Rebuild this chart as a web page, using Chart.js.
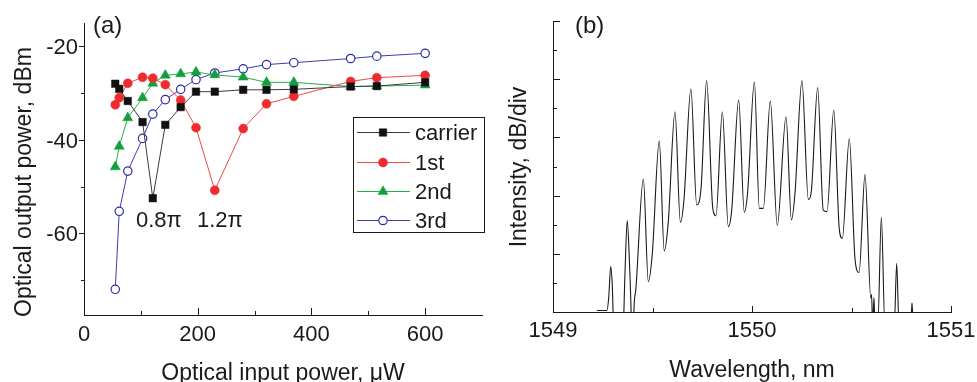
<!DOCTYPE html>
<html>
<head>
<meta charset="utf-8">
<script src="https://cdn.jsdelivr.net/npm/chart.js@4.4.1/dist/chart.umd.min.js"></script>
<style>
html, body { margin: 0; padding: 0; background: #fff; }
#wrap { position: relative; width: 977px; height: 382px; overflow: hidden; }
#boxA { position: absolute; left: 0; top: 0; width: 490px; height: 382px; }
#boxB { position: absolute; left: 490px; top: 0; width: 487px; height: 382px; }
</style>
</head>
<body>
<div id="wrap">
	<div id="boxA"><canvas id="chartA"></canvas></div>
	<div id="boxB"><canvas id="chartB"></canvas></div>
</div>
<script>
// ---- panel (a): output power of carrier and harmonics vs input power ----
var inputPower   = [55, 62, 77, 103, 121, 143, 170, 197, 230, 280, 321, 369, 469, 515, 600];
var carrierPower = [-28.0, -29.1, -31.7, -36.2, -52.5, -36.8, -33.0, -29.7, -29.7, -29.3, -29.3, -29.2, -28.6, -28.5, -27.7];
var firstPower   = [-32.5, -31.0, -27.9, -26.6, -26.8, -28.2, -31.5, -37.4, -50.8, -37.6, -32.3, -30.7, -27.5, -26.7, -26.2];
var secondPower  = [-45.8, -41.4, -35.3, -31.0, -27.9, -26.2, -25.9, -25.5, -26.1, -26.6, -27.7, -27.7, -28.6, -28.5, -28.3];
var thirdPower   = [-72.0, -55.3, -46.7, -39.7, -34.5, -31.4, -29.2, -27.1, -25.7, -24.8, -23.9, -23.5, -22.6, -22.1, -21.5];
var seriesNames  = ['carrier', '1st', '2nd', '3rd'];
var phaseNotes   = ['0.8\u03c0', '1.2\u03c0'];
var xTicksA = [0, 200, 400, 600];
var xMinorA = [100, 300, 500];
var yTicksA = [-20, -40, -60];
var yMinorA = [-30, -50, -70];

// ---- panel (b): optical spectrum ----
var wavelength = [
	1549.220, 1549.271, 1549.280, 1549.290, 1549.298, 1549.307,
	1549.350, 1549.362, 1549.373, 1549.386, 1549.400,
	1549.409, 1549.416, 1549.454, 1549.479, 1549.499,
	1549.534, 1549.559, 1549.579,
	1549.613, 1549.640, 1549.658,
	1549.693, 1549.722, 1549.744,
	1549.772, 1549.803, 1549.819,
	1549.851, 1549.881, 1549.898,
	1549.933, 1549.961, 1549.978,
	1550.012, 1550.037, 1550.057,
	1550.092, 1550.127,
	1550.171, 1550.198, 1550.216,
	1550.251, 1550.283, 1550.297,
	1550.330, 1550.358, 1550.377,
	1550.411, 1550.439, 1550.454,
	1550.489, 1550.518, 1550.538,
	1550.568, 1550.597, 1550.601, 1550.606, 1550.613, 1550.618, 1550.632,
	1550.650, 1550.668,
	1550.715, 1550.727, 1550.739,
	1550.800, 1550.804, 1550.808
];
var intensity = [
	0.05, 0.05, 0.5, 1.56, 0.9, -1,
	-1, 1.4, 3.14, 1.4, -1,
	0.4, 0.76, 4.58, 1.04, 2.0,
	5.88, 2.1, 3.07,
	6.88, 3.08, 3.85,
	7.67, 3.68, 4.25,
	7.95, 3.56, 3.31,
	6.88, 2.93, 3.5,
	7.29, 3.43, 4.11,
	7.91, 3.56, 3.56,
	7.26, 2.97,
	6.71, 3.16, 4.08,
	7.95, 3.87, 4.08,
	7.71, 3.5, 3.45,
	6.94, 2.82, 2.53,
	5.96, 1.79, 1.36,
	4.73, 0.47, 0.6, -0.5, 0.5, -0.5, -0.5,
	3.25, -0.5,
	-0.5, 1.67, -0.5,
	-0.2, 0.32, -0.2
];
var xTicksB = [1549, 1550, 1551];
var xMinorB = [1549.5, 1550.5];
var yTicksB = [2, 4, 6, 8, 10];
var yMinorB = [1, 3, 5, 7, 9];

var FONT = '"Liberation Sans", Arial, Helvetica, sans-serif';
var INK = '#1a1a1a';

function toPoints(xs, ys) {
	return xs.map(function(x, i) { return {x: x, y: ys[i]}; });
}

function seg(ctx, x1, y1, x2, y2) {
	ctx.beginPath();
	ctx.moveTo(x1, y1);
	ctx.lineTo(x2, y2);
	ctx.stroke();
}

function crisp(v) { return Math.round(v) + 0.5; }

// tick marks, labels, titles, legend for panel (a)
var decorA = {
	id: 'decorA',
	afterDraw: function(chart) {
		var ctx = chart.ctx;
		var sx = chart.scales.x, sy = chart.scales.y;
		var area = chart.chartArea;
		ctx.save();
		ctx.strokeStyle = INK;
		ctx.lineWidth = 1;
		// x ticks point into the plot
		xTicksA.forEach(function(v) { var x = crisp(sx.getPixelForValue(v)); seg(ctx, x, area.bottom, x, area.bottom - 7); });
		xMinorA.forEach(function(v) { var x = crisp(sx.getPixelForValue(v)); seg(ctx, x, area.bottom, x, area.bottom - 4); });
		// y ticks point outward
		yTicksA.forEach(function(v) { var y = crisp(sy.getPixelForValue(v)); seg(ctx, area.left, y, area.left - 5, y); });
		yMinorA.forEach(function(v) { var y = crisp(sy.getPixelForValue(v)); seg(ctx, area.left, y, area.left - 3, y); });

		ctx.fillStyle = INK;
		ctx.font = '22px ' + FONT;
		ctx.textBaseline = 'alphabetic';
		ctx.textAlign = 'center';
		xTicksA.forEach(function(v) { ctx.fillText(String(v), sx.getPixelForValue(v), 341); });
		ctx.textAlign = 'right';
		yTicksA.forEach(function(v) { ctx.fillText(String(v), area.left - 6, sy.getPixelForValue(v) + 8); });

		// phase notes under the two dips
		ctx.textAlign = 'center';
		ctx.fillText(phaseNotes[0], sx.getPixelForValue(inputPower[4]) + 6, sy.getPixelForValue(-57) + 8);
		ctx.fillText(phaseNotes[1], sx.getPixelForValue(inputPower[8]) + 5, sy.getPixelForValue(-57) + 8);

		// titles
		ctx.font = '23px ' + FONT;
		ctx.fillText('Optical input power, \u03bcW', (area.left + area.right) / 2, 380);
		ctx.save();
		ctx.translate(31, 182);
		ctx.rotate(-Math.PI / 2);
		ctx.fillText('Optical output power, dBm', 0, 0);
		ctx.restore();
		ctx.textAlign = 'left';
		ctx.font = '24px ' + FONT;
		ctx.fillText('(a)', 93, 33);

		// legend box
		ctx.lineWidth = 1;
		ctx.strokeStyle = INK;
		ctx.strokeRect(353.5, 117.5, 131, 115);
		var rows = [132, 162, 191, 220];
		ctx.font = '22px ' + FONT;
		chart.data.datasets.forEach(function(ds, i) {
			var y = rows[i];
			ctx.strokeStyle = ds.borderColor;
			ctx.lineWidth = ds.borderWidth;
			seg(ctx, 357, y + 0.5, 410, y + 0.5);
			ctx.fillStyle = ds.pointBackgroundColor;
			ctx.strokeStyle = ds.pointBorderColor;
			ctx.lineWidth = ds.pointBorderWidth;
			Chart.helpers.drawPoint(ctx, {pointStyle: ds.pointStyle, radius: ds.pointRadius, rotation: 0, borderWidth: ds.pointBorderWidth}, 383, y + 0.5);
			ctx.fillStyle = INK;
			ctx.fillText(ds.label, 415, y + 8);
		});
		ctx.restore();
	}
};

// tick marks, labels, titles for panel (b)
var decorB = {
	id: 'decorB',
	afterDraw: function(chart) {
		var ctx = chart.ctx;
		var sx = chart.scales.x, sy = chart.scales.y;
		var area = chart.chartArea;
		ctx.save();
		ctx.strokeStyle = INK;
		ctx.lineWidth = 1;
		xTicksB.forEach(function(v) { var x = crisp(sx.getPixelForValue(v)); seg(ctx, x, area.bottom, x, area.bottom - 6); });
		xMinorB.forEach(function(v) { var x = crisp(sx.getPixelForValue(v)); seg(ctx, x, area.bottom, x, area.bottom - 4); });
		yTicksB.forEach(function(v) { var y = crisp(sy.getPixelForValue(v)); seg(ctx, area.left, y, area.left + 7, y); });
		yMinorB.forEach(function(v) { var y = crisp(sy.getPixelForValue(v)); seg(ctx, area.left, y, area.left + 4, y); });

		ctx.fillStyle = INK;
		ctx.font = '22px ' + FONT;
		ctx.textAlign = 'center';
		ctx.textBaseline = 'alphabetic';
		xTicksB.forEach(function(v) { ctx.fillText(String(v), sx.getPixelForValue(v), 337); });

		ctx.font = '23px ' + FONT;
		ctx.fillText('Wavelength, nm', (area.left + area.right) / 2, 377);
		ctx.save();
		ctx.translate(36, 167);
		ctx.rotate(-Math.PI / 2);
		ctx.fillText('Intensity, dB/div', 0, 0);
		ctx.restore();
		ctx.textAlign = 'left';
		ctx.font = '24px ' + FONT;
		ctx.fillText('(b)', 85, 33);
		ctx.restore();
	}
};

function bareAxis(min, max) {
	return {
		type: 'linear', min: min, max: max,
		grid: { display: false, drawTicks: false },
		border: { display: true, color: INK, width: 1 },
		ticks: { display: false }
	};
}

var chartA = new Chart(document.getElementById('chartA'), {
	type: 'line',
	data: {
		datasets: [
			{ label: seriesNames[0], data: toPoints(inputPower, carrierPower), borderColor: '#3a3a3a', borderWidth: 1,
			  pointStyle: 'rect', pointRadius: 5.3, pointBackgroundColor: '#111', pointBorderColor: '#111', pointBorderWidth: 0.5 },
			{ label: seriesNames[1], data: toPoints(inputPower, firstPower), borderColor: '#f04848', borderWidth: 1,
			  pointStyle: 'circle', pointRadius: 4.5, pointBackgroundColor: '#ee2b2e', pointBorderColor: '#ee2b2e', pointBorderWidth: 0.5 },
			{ label: seriesNames[2], data: toPoints(inputPower, secondPower), borderColor: '#2aaa4c', borderWidth: 1,
			  pointStyle: 'triangle', pointRadius: 5.8, pointBackgroundColor: '#12a03c', pointBorderColor: '#12a03c', pointBorderWidth: 0.5 },
			{ label: seriesNames[3], data: toPoints(inputPower, thirdPower), borderColor: '#3b3bb0', borderWidth: 1,
			  pointStyle: 'circle', pointRadius: 4.2, pointBackgroundColor: '#fff', pointBorderColor: '#2c2ca8', pointBorderWidth: 1.2 }
		]
	},
	options: {
		responsive: true, maintainAspectRatio: false, animation: false, devicePixelRatio: 1,
		layout: { padding: { left: 84, top: 23, right: 8, bottom: 67 } },
		plugins: { legend: { display: false }, tooltip: { enabled: false } },
		elements: { line: { tension: 0 } },
		scales: { x: bareAxis(0, 700), y: bareAxis(-77.5, -15) }
	},
	plugins: [decorA]
});

var chartB = new Chart(document.getElementById('chartB'), {
	type: 'line',
	data: {
		datasets: [
			{ label: 'spectrum', data: toPoints(wavelength, intensity), borderColor: '#1a1a1a', borderWidth: 1.1,
			  pointRadius: 0, cubicInterpolationMode: 'monotone' }
		]
	},
	options: {
		responsive: true, maintainAspectRatio: false, animation: false, devicePixelRatio: 1,
		layout: { padding: { left: 63, top: 21, right: 26, bottom: 70 } },
		plugins: { legend: { display: false }, tooltip: { enabled: false } },
		scales: { x: bareAxis(1549, 1551), y: bareAxis(0, 10) }
	},
	plugins: [decorB]
});
</script>
</body>
</html>
